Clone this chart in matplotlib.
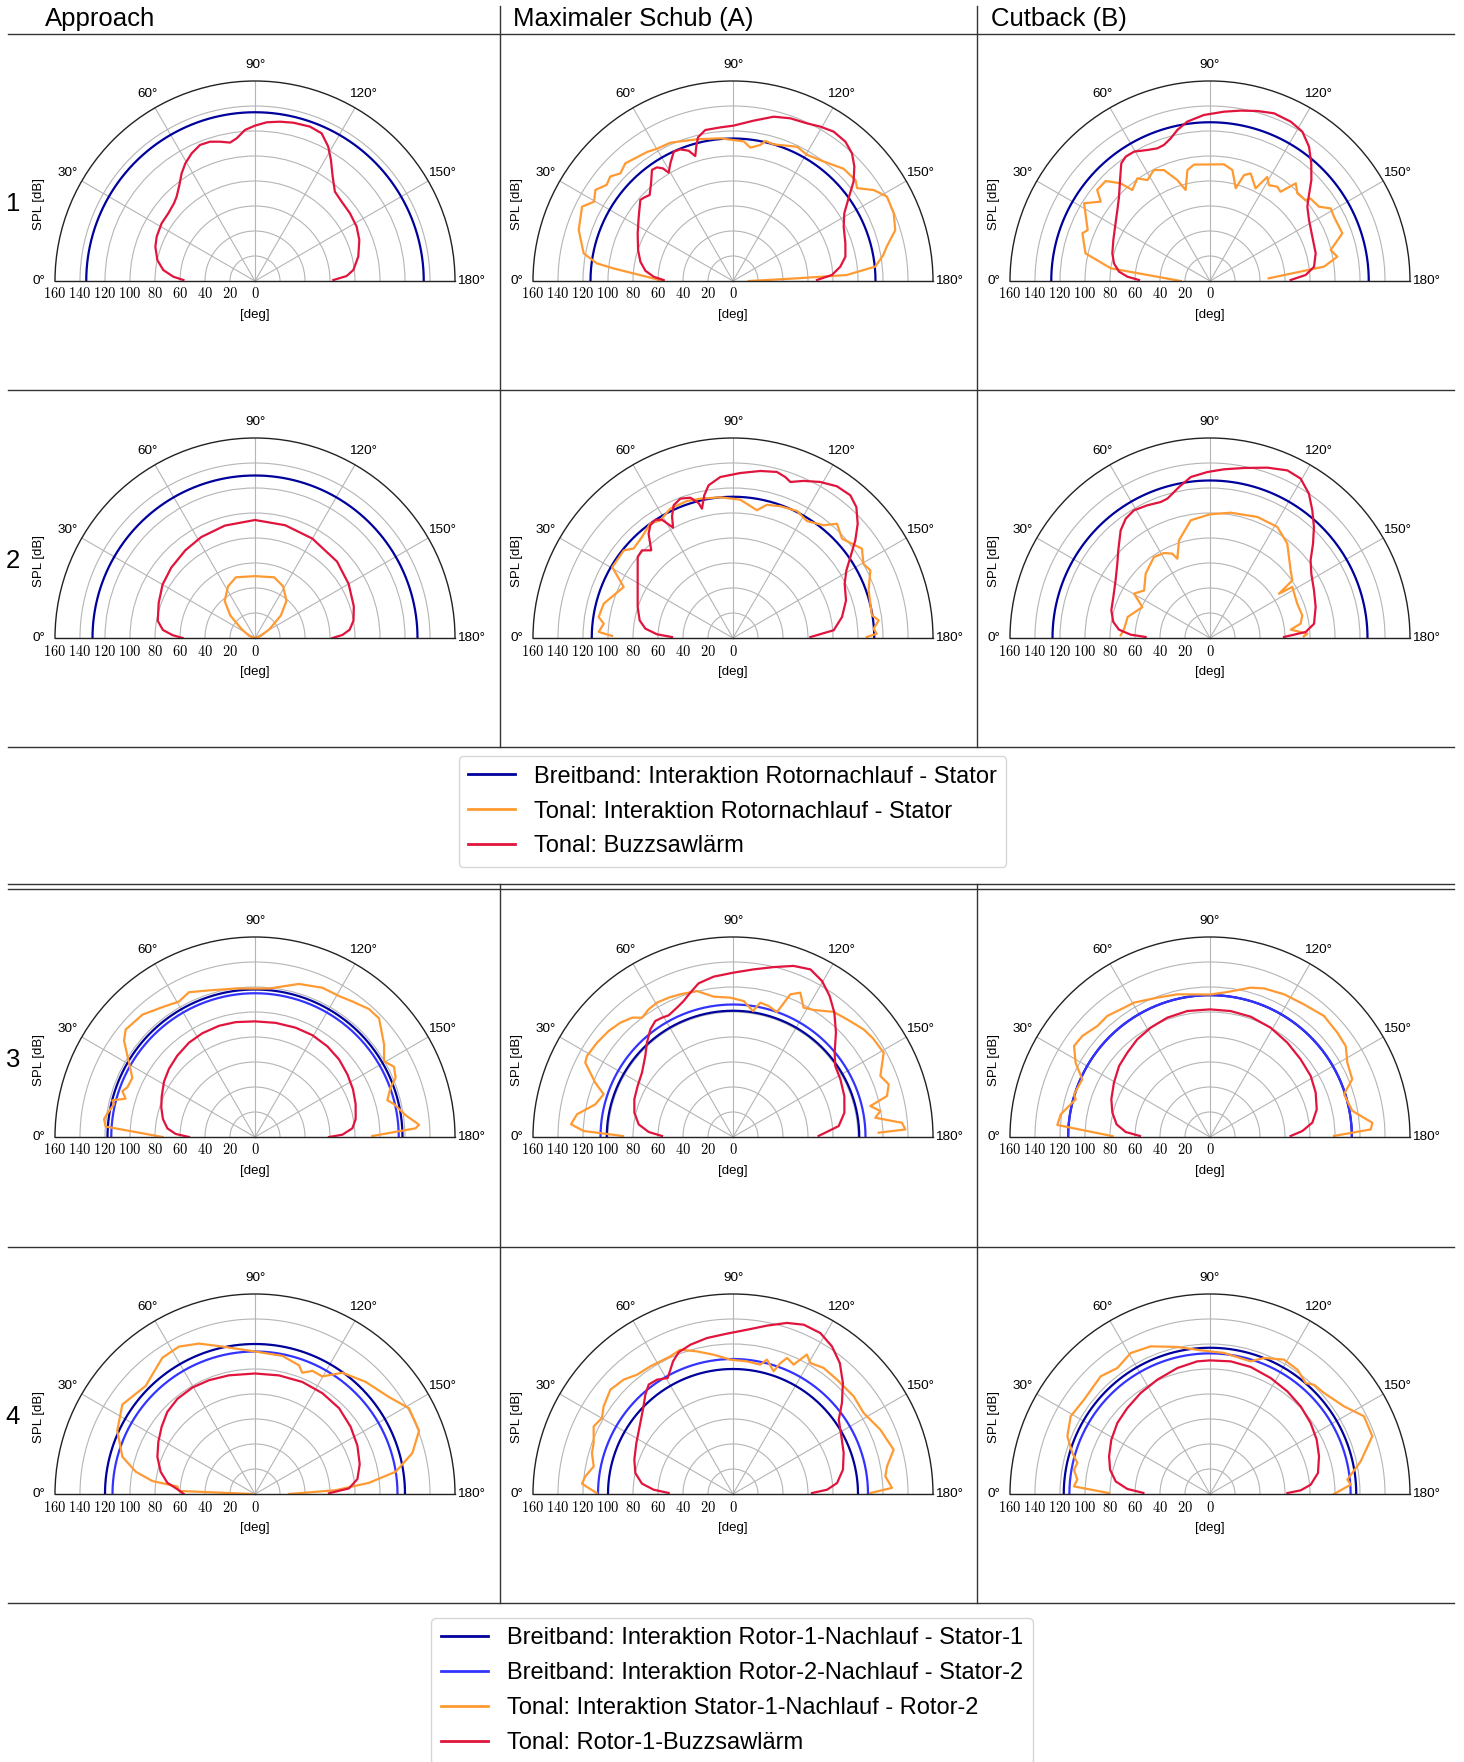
import numpy as np
import matplotlib.pyplot as plt
import matplotlib.transforms as mtransforms
from matplotlib.lines import Line2D

plt.rcParams['font.family'] = ['Liberation Sans', 'DejaVu Sans']
plt.rcParams['mathtext.fontset'] = 'cm'

# Farben
NAVY = '#00009c'
BLUE = '#3333ff'
ORANGE = '#ff9a33'
RED = '#e0143c'

# Spaltenköpfe und Zeilen
headers = ['Approach', 'Maximaler Schub (A)', 'Cutback (B)']
rows = ['1', '2', '3', '4']

# ---------- Zeile 1 ----------
app1_bb = 135
app1_red_deg = [0.8, 3, 6.8, 12.1, 19, 24.3, 31.7, 38, 43.8, 47.1, 51.8, 55.7, 59.4, 63.6, 68, 72.1, 75.9, 79.8, 82.7,
                86.2, 90, 94.2, 98.9, 103.6, 109.6, 114.3, 118.6, 122.1, 126.7, 131.8, 137.5, 144.5, 151.9, 158.5,
                166.7, 173.6, 176.9, 179.3]
app1_red_db = [57.3, 65.4, 73.9, 79.9, 84.3, 86.3, 87.8, 88, 89.8, 92.1, 97.8, 104.2, 109.4, 114, 117.4, 117.1, 114.9,
               112.5, 115.1, 121.1, 124.3, 127.3, 129, 130.3, 131.1, 129.6, 122.4, 114.3, 104, 95.9, 94, 93.3, 92.2, 89.7,
               84.9, 79.2, 73.4, 62.7]

sch1_bb = 114
sch1_ora_deg = [0, 6, 7.4, 10.5, 18.3, 26.2, 29.7, 33.5, 37.3, 40.4, 43.7, 47.5, 56.4, 60.2, 65.6, 75.7, 84.9, 94.4, 97.4,
                101.4, 103, 106.5, 115.5, 120.4, 127.2, 134.5, 140.5, 143.2, 147.1, 151.3, 157.2, 162.6, 167.4, 170.2,
                174.2, 177, 177.6, 178.5, 180]
sch1_ora_db = [55.5, 96, 110, 121.5, 130, 134.6, 128, 132, 127, 129, 124.6, 127.6, 124, 122, 121.5, 117, 114.6, 112, 107.6,
               111, 115, 114, 119, 117, 120, 126, 127, 124, 134, 140.5, 139.5, 136, 126, 122,
               114.5, 91, 51, 25, 12.5]
sch1_red_deg = [0.8, 3.1, 6.7, 11.8, 18.1, 26.6, 34.3, 41.2, 43.3, 45.9, 50, 53.9, 56.2, 58.1, 59.3, 62, 65.4, 68.2, 71.2,
                73.2, 74.7, 76.3, 79.6, 85.3, 90.2, 97.3, 103.9, 109.4, 115.1, 119.5, 124, 128.9, 133, 136.7, 140.5,
                144.4, 148.7, 153.9, 161.5, 167.8, 172.4, 176.5, 179.3]
sch1_red_db = [55.5, 63.6, 70.6, 75.7, 79.9, 85.3, 91.3, 98.5, 97.5, 95.8, 102, 110, 109.4, 106.1, 100.8, 106.7, 113.8, 113.4,
               110.1, 104.4, 111.4, 118.3, 122.8, 123.3, 124.3, 129.3, 135.4, 138, 139.3, 141.9, 144.1, 143.2, 139.6,
               133.4, 125, 113.7, 104.2, 98.6, 94.8, 92, 86.6, 79.3, 67.2]

cut1_bb = 127
cut1_ora_deg = [0, 7.3, 12.5, 20.5, 22.6, 31.7, 36, 38.9, 43.8, 47.5, 49.5, 54.7, 58.2, 63.2, 67.5, 72, 75, 78.5, 82.2,
                96.8, 101.4, 105.5, 107.8, 110.7, 116.2, 118.8, 121.6, 125.5, 128.3, 131.3, 134.9, 139.7, 140.6, 145.7,
                149, 152.6, 157.2, 160.2, 165.6, 169.2, 172.8, 177.4]
cut1_ora_db = [23.5, 80, 102, 109, 106, 118.4, 108, 116, 115.6, 106, 95.7, 100.6, 95, 99.5, 96, 85, 75.4, 90.6, 94,
               94, 90.6, 77, 89, 92, 82.6, 95, 90, 92.7, 91, 104, 99, 100, 104, 105.5,
               112.7, 111.7, 112, 112.5, 99.7, 103.7, 92, 47]
cut1_red_deg = [0.8, 3, 5.9, 10.4, 15.8, 23, 29.8, 37.5, 42.8, 48.3, 53, 55.9, 59.6, 64.4, 68.3, 71.3, 74.6, 77.8, 81.9,
                87.9, 94.7, 100.2, 105.6, 110.9, 116.9, 121.7, 126.4, 130.7, 135.1, 139, 142.6, 148.4, 156.6, 165.3,
                172.2, 176.4, 179.3]
cut1_red_db = [56.8, 66.2, 73.2, 78.1, 81.2, 84, 87.5, 93.4, 99.2, 108.2, 117.9, 120.2, 120, 116.2, 114.2, 114.9, 118.4,
               123.6, 128.8, 132.9, 135.9, 138.5, 141.2, 143.6, 142.9, 140.5, 133.5, 124.2, 114.5, 104.9, 98, 93, 89.2,
               87.4, 84, 76.7, 64.5]

# ---------- Zeile 2 ----------
app2_bb = 130
app2_ora_deg = [0, 20, 33.7, 42.3, 50.7, 62.4, 72.5, 90, 107.5, 118.5, 130.3, 139, 148.4, 160, 180]
app2_ora_db = [0, 5, 13, 26.7, 38.3, 46.6, 50.9, 49.5, 50.9, 47.1, 38.9, 27.4, 13.7, 5, 0]
app2_red_deg = [0, 2, 5, 10, 20, 30, 40, 51.5, 62, 75, 90, 105, 120, 137, 150, 162.3, 170, 175, 178, 180]
app2_red_db = [58, 66, 74, 79, 82, 85.4, 87.5, 89.6, 91.5, 93.1, 94.4, 93.4, 91.8, 89.7, 86.5, 83, 80, 76, 70, 62]

sch2_bb = 113
sch2_ora_deg = [1, 2.6, 6.3, 8.9, 14.9, 25, 30.4, 38.7, 42, 48, 54.1, 58.3, 64.1, 71.4, 76.8, 84.9, 93, 100.6, 104.3,
                109.8, 116.7, 122.3, 128.8, 132.3, 137.7, 145.3, 150.4, 153.8, 160.6, 170.7, 173.1, 176.2, 178.3, 179.6]
sch2_ora_db = [96.8, 107.6, 104, 108.8, 107, 96.5, 112, 112, 107, 108.8, 113, 110.6, 115, 115.6, 114.5, 113, 110.8, 104, 110,
               112, 113.8, 110.7, 115.7, 123.6, 118, 125.5, 120, 122.5, 115, 112.6, 117.4, 112.8, 115, 107]
sch2_red_deg = [0.9, 2.8, 6.1, 10.7, 18, 26.6, 34, 40.4, 43.9, 47, 51, 53.7, 56.7, 59, 61.5, 63.4, 65.9, 69.3, 73.1, 75.7,
                76.5, 78.6, 80.9, 85.5, 92.5, 99.3, 104.8, 108, 110.2, 114.2, 119.2, 124.4, 129.4, 133.3, 137.5, 141.4,
                145.4, 149.2, 154.1, 161.6, 169.1, 175.6, 179.3]
sch2_red_db = [48.8, 60.9, 70.5, 76, 80.2, 85.3, 92, 100.1, 101.1, 95.9, 107.3, 111.8, 113.2, 110.4, 100.5, 108.9, 116.3,
               119.2, 117.3, 111.4, 106.4, 116.4, 123.7, 129.2, 132.1, 135.4, 137.4, 135.4, 133, 137.8, 143, 147.1, 147.8,
               143.9, 135.3, 125.2, 114.1, 105.6, 99.3, 95.3, 88.8, 80.8, 61.9]

cut2_bb = 126
cut2_ora_deg = [1.7, 6.2, 14.3, 24.6, 30.3, 35.8, 45, 55.3, 61.6, 65.9, 67.6, 72.4, 80.7, 90, 99.4, 111.4, 121.2, 129.3,
                140, 145, 147.3, 148.2, 158.5, 166.2, 171, 174.1, 177.5, 179]
cut2_ora_db = [71.5, 69, 68, 59.5, 70.4, 65, 72.8, 78.8, 77.3, 73.9, 68.6, 82, 95.4, 99, 101.6, 104, 103.9, 97.6,
               84.2, 80.4, 65.6, 77.5, 75, 76, 73.4, 64.9, 78, 75]
cut2_red_deg = [0.9, 2.4, 5.2, 9.4, 15.7, 23, 31.4, 38.7, 43.7, 50.3, 54.8, 59.2, 64.7, 70.1, 73, 75.4, 78.4, 83.2, 89.1,
                94.7, 101.3, 108.6, 114.8, 119.6, 124.4, 128.7, 133.1, 137.5, 142.3, 147.6, 155.4, 163.6, 172.2, 176.4,
                179.2]
cut2_red_db = [51.5, 63.5, 73.1, 78.4, 82, 84, 88.5, 95, 101.5, 111.9, 116.9, 118.9, 117.4, 115.7, 116.6, 119.3, 123.3,
               129.7, 132.8, 135.4, 138.7, 143.8, 147.7, 146.7, 140, 130.9, 121.7, 111.8, 101.7, 96, 91.5, 88.1, 84, 76.7,
               59.2]

# ---------- Zeile 3 ----------
app3_bb1, app3_bb2 = 118, 115
app3_ora_deg = [0, 4, 6.8, 9, 13.1, 14.4, 16.5, 19.1, 21.2, 25.7, 30.4, 36.3, 39.7, 47.4, 54.5, 60.7, 65.5, 72.6, 82.6,
                95.4, 106, 114.3, 120.8, 125.7, 131.7, 136.3, 144.4, 149.6, 153.2, 157.2, 159.9, 164.5, 166.7, 171.8,
                175.7, 176.9, 179.5]
app3_ora_db = [74, 119.8, 121.6, 119.6, 115.8, 117.8, 108, 112.3, 109.6, 108.9, 116.8, 130, 134.5, 133, 127.6, 124.3, 127.3,
               122.9, 119.8, 119.3, 127.4, 131, 131.3, 133.5, 137.1, 137.3, 127, 119.7, 124.6, 122, 115.5, 109.9, 114.3,
               121.8, 131.6, 128.7, 93.9]
app3_red_deg = [0, 2.2, 5.6, 11, 17.3, 23.3, 31.3, 38.4, 46.3, 55, 63.1, 72.1, 80.4, 90, 100.2, 110.4, 119.4, 128.6,
                137.3, 145.9, 154, 161.9, 169.9, 174.9, 178.5, 180]
app3_red_db = [52.8, 63.5, 70.4, 75, 78.5, 81.3, 85.2, 87.8, 90, 92.1, 93.1, 93.5, 93.2, 92.5, 92.8, 93.3, 93.5, 92.8, 91.5,
               89.3, 87.2, 84.7, 81.8, 78.2, 69.9, 59.2]

sch3_bb1, sch3_bb2 = 101, 106
sch3_ora_deg = [0.5, 2.3, 4.5, 8.3, 13.3, 18.3, 21.5, 26.7, 29, 34.7, 40.5, 45.4, 49.8, 52.7, 56.5, 60.5, 65.2, 69.7,
                76.1, 82.2, 88.9, 94.5, 99, 101.5, 105.2, 109.4, 111.9, 115, 118.6, 122.4, 128.8, 134.1, 140.5, 144.8,
                150.8, 157.5, 161.3, 165.1, 167.3, 170, 172.3, 175.2, 177.5, 178.3]
sch3_ora_db = [88, 119.6, 130, 126.1, 113.2, 109, 118.4, 132.3, 133.6, 132.4, 130.7, 128.4, 125, 120, 122.4, 123.5, 122.8,
               121.7, 120.3, 113.3, 111.5, 109.1, 102, 109.7, 108.6, 106, 123, 127.4, 117.9, 120.4, 128.4, 131.1, 135.4,
               137, 138.1, 127.6, 131.5, 127.5, 112.6, 119.7, 114.9, 135.7, 138, 116.6]
sch3_red_deg = [0.8, 3.4, 7.6, 13.9, 20.9, 28.1, 35.3, 42.7, 47.6, 52.5, 56.2, 59.2, 62.1, 66.6, 70.1, 73.5, 77.4, 83.1,
                90.2, 97, 103.5, 109.5, 114.8, 119.7, 124.4, 129.2, 134.6, 140.3, 145.2, 151.8, 159.8, 167.7, 174.1,
                179.3]
sch3_red_db = [56.8, 67.6, 76.1, 81.3, 84.5, 86.5, 89.2, 95.5, 102.1, 108.6, 111.7, 111.1, 110.1, 112.8, 115.8, 120.4, 126,
               129.2, 131.5, 135.1, 139.8, 145.2, 147.7, 143.7, 136.8, 128.3, 117.3, 105.7, 99.6, 97.5, 94.9, 91.2, 85,
               68.5]

cut3_bb1, cut3_bb2 = 113.5, 113.5
cut3_ora_deg = [0.5, 4.5, 8.6, 13.2, 15.7, 17.4, 24.3, 28.9, 33.8, 38.4, 44.6, 49.7, 56.4, 60.5, 69.3, 77.1, 90, 96.8,
                105.2, 110, 117.4, 125.3, 133.3, 140.7, 146.2, 151.6, 157.9, 162.3, 169.6, 175, 177.3, 179.5]
cut3_ora_db = [78, 122.5, 120.8, 114.5, 111.6, 114, 112.1, 122.8, 130.9, 130.2, 126.5, 127, 124.2, 123.5, 119.2, 117.1, 114,
               116.8, 123.8, 126.5, 128.6, 130, 133, 131.7, 130.7, 124.9, 122.8, 112.5, 115.8, 130.4, 128.7, 99.2]
cut3_red_deg = [0.8, 3.4, 7.7, 14, 20.9, 29.5, 38, 45.6, 53.3, 61.5, 70.3, 79.8, 90, 99.3, 108.7, 119, 129.3, 139.4,
                148.8, 157.2, 165.5, 172, 176.3, 179.3]
cut3_red_db = [56, 67.6, 75.4, 80.5, 84.5, 88.3, 92.3, 94.5, 97.4, 99.5, 101.4, 102.4, 102.1, 102.1, 101.6, 100, 97.6, 95.5,
               94.2, 91.7, 88.2, 82.7, 74, 64.5]

# ---------- Zeile 4 ----------
app4_bb1, app4_bb2 = 120, 114
app4_ora_deg = [0, 2.3, 5.5, 7.2, 10.6, 15.7, 24.7, 34, 44.7, 49.3, 55.8, 62.7, 69.6, 77.5, 90, 101.2, 108.9, 111.3,
                115, 119.8, 125.8, 134.6, 144.1, 150.9, 158.9, 165.4, 171, 174.4, 177.3, 180]
app4_ora_db = [2, 60.8, 62.4, 82.8, 97.1, 110.2, 121.3, 128, 123, 126, 131.8, 132.7, 128.4, 120.8, 114, 112.6, 108.8, 104.1,
               108.7, 108.4, 119.6, 126, 132.3, 141, 140.7, 130.1, 114, 91.6, 64.6, 27.2]
app4_red_deg = [0, 2.8, 7.3, 13.3, 20.9, 28.4, 35.7, 43.1, 50.8, 59.5, 68, 77.6, 90, 101.4, 112.9, 123.8, 134.4, 144.9,
                154.7, 164.1, 171.7, 176.6, 179.4]
app4_red_db = [57, 60.9, 70.7, 77.6, 83.6, 87.9, 92, 96.1, 98.2, 98.8, 98.2, 97.2, 96.4, 96.8, 97.3, 97, 96.1, 93.5, 90.6,
               87.1, 82.8, 75.3, 59.2]

sch4_bb1, sch4_bb2 = 100, 108
sch4_ora_deg = [0.3, 3.9, 6.8, 11.2, 16.2, 20.1, 25.9, 30.1, 34.1, 40.4, 46.3, 51.2, 57.1, 61.3, 65.5, 69.9, 75.8, 82.1,
                88.9, 96, 101.9, 104.2, 108.3, 109.9, 111.7, 115.1, 117.9, 120.6, 125.7, 132.3, 141, 148.2, 156.4,
                164.6, 169.8, 173.4, 177.8, 179.6]
sch4_ora_db = [108.8, 121.1, 119, 113.6, 117.5, 118.7, 123.9, 121.2, 125, 128.8, 126.6, 122.5, 121.7, 121, 121, 122.9, 117.7,
               112.5, 107.5, 106.7, 105.8, 110.9, 103.4, 111.4, 117.1, 114.3, 126.2, 121.7, 124.2, 123.7, 124.2, 123,
               128.6, 133.3, 125.2, 122.7, 127.3, 109.9]
sch4_red_deg = [0.9, 3.1, 6.5, 12.1, 19.2, 27.8, 35.9, 43.1, 48.6, 52.4, 56.4, 60.6, 63.3, 65.7, 69, 74.1, 80.5, 87.9,
                94.9, 101.4, 107.5, 112.7, 118.5, 123.8, 129.2, 134.7, 140.1, 144.9, 152, 159.7, 167.5, 174, 177.4,
                179.3]
sch4_red_db = [51.5, 63.6, 73.3, 79.9, 83.6, 87.4, 92.2, 98.7, 106, 110.5, 109.8, 106.5, 111.4, 116.5, 121.4, 124.2, 126.5,
               128.4, 131.9, 137.4, 143.5, 146.8, 146.5, 142.2, 135.2, 125, 113.6, 103.4, 98.2, 94.4, 90.1, 83.7, 75.3,
               63.2]

cut4_bb1, cut4_bb2 = 117, 112.5
cut4_ora_deg = [0.5, 3.2, 6.2, 10.1, 13.2, 16.6, 22, 29.1, 36.8, 47.1, 53.7, 60.6, 68.1, 77.5, 86.3, 95.7, 107, 111.7,
                118.8, 125.1, 130.8, 133.6, 138.5, 146.8, 153.2, 160.4, 167.8, 174, 176.2, 180]
cut4_ora_db = [80.8, 109, 106.8, 110.5, 109, 114.9, 123.1, 127.6, 125.9, 128.5, 125.1, 129.4, 127.3, 120.5, 115.2, 113.4,
               111, 117.1, 122.7, 121.6, 117.2, 120.7, 121.9, 128.1, 138, 137.8, 123.3, 110.5, 112.8, 99.2]
cut4_red_deg = [0.9, 3.5, 7.6, 13.7, 20.5, 28.8, 37.5, 46.1, 55.5, 65.3, 75.5, 84.5, 90, 98.9, 107.8, 117.6, 127, 136,
                144.8, 153, 160.9, 169, 174.7, 177.7, 179.3]
cut4_red_db = [53.3, 66.3, 76.1, 82.3, 86.2, 90.1, 93.4, 95.4, 98, 100.7, 104.1, 106.6, 106.9, 107.4, 106.7, 104.7, 102.8,
               100.9, 98.5, 95.8, 92.3, 88, 80.9, 72.6, 61.9]

legend_top = ['Breitband: Interaktion Rotornachlauf - Stator',
              'Tonal: Interaktion Rotornachlauf - Stator',
              'Tonal: Buzzsawlärm']
legend_bottom = ['Breitband: Interaktion Rotor-1-Nachlauf - Stator-1',
                 'Breitband: Interaktion Rotor-2-Nachlauf - Stator-2',
                 'Tonal: Interaktion Stator-1-Nachlauf - Rotor-2',
                 'Tonal: Rotor-1-Buzzsawlärm']

# Panels: (Zeile, Spalte, Breitband-Pegel, tonale Kurven)
panels = [
    (0, 0, [(app1_bb, NAVY)], [(app1_red_deg, app1_red_db, RED)]),
    (0, 1, [(sch1_bb, NAVY)], [(sch1_ora_deg, sch1_ora_db, ORANGE), (sch1_red_deg, sch1_red_db, RED)]),
    (0, 2, [(cut1_bb, NAVY)], [(cut1_ora_deg, cut1_ora_db, ORANGE), (cut1_red_deg, cut1_red_db, RED)]),
    (1, 0, [(app2_bb, NAVY)], [(app2_ora_deg, app2_ora_db, ORANGE), (app2_red_deg, app2_red_db, RED)]),
    (1, 1, [(sch2_bb, NAVY)], [(sch2_ora_deg, sch2_ora_db, ORANGE), (sch2_red_deg, sch2_red_db, RED)]),
    (1, 2, [(cut2_bb, NAVY)], [(cut2_ora_deg, cut2_ora_db, ORANGE), (cut2_red_deg, cut2_red_db, RED)]),
    (2, 0, [(app3_bb1, NAVY), (app3_bb2, BLUE)], [(app3_ora_deg, app3_ora_db, ORANGE), (app3_red_deg, app3_red_db, RED)]),
    (2, 1, [(sch3_bb1, NAVY), (sch3_bb2, BLUE)], [(sch3_ora_deg, sch3_ora_db, ORANGE), (sch3_red_deg, sch3_red_db, RED)]),
    (2, 2, [(cut3_bb1, NAVY), (cut3_bb2, BLUE)], [(cut3_ora_deg, cut3_ora_db, ORANGE), (cut3_red_deg, cut3_red_db, RED)]),
    (3, 0, [(app4_bb1, NAVY), (app4_bb2, BLUE)], [(app4_ora_deg, app4_ora_db, ORANGE), (app4_red_deg, app4_red_db, RED)]),
    (3, 1, [(sch4_bb1, NAVY), (sch4_bb2, BLUE)], [(sch4_ora_deg, sch4_ora_db, ORANGE), (sch4_red_deg, sch4_red_db, RED)]),
    (3, 2, [(cut4_bb1, NAVY), (cut4_bb2, BLUE)], [(cut4_ora_deg, cut4_ora_db, ORANGE), (cut4_red_deg, cut4_red_db, RED)]),
]

W, H = 1464, 1762
fig = plt.figure(figsize=(W / 100, H / 100), dpi=100)


def fx(px):
    return px / W


def fy(py):
    return 1 - py / H


col_x = [255, 733, 1210]
row_y = [281, 638, 1137, 1494]
R = 200  # Radius in Pixel

full_arc = np.radians(np.linspace(0, 180, 361))

for row, col, levels, curves in panels:
    cx, cy = col_x[col], row_y[row]
    # quadratische Box, der Halbkreis sitzt mittig darin
    ax = fig.add_axes([fx(cx - R), fy(cy + R / 2), 2 * R / W, 2 * R / H], projection='polar')
    ax.set_theta_zero_location('W')
    ax.set_theta_direction(-1)
    ax.set_thetamin(0)
    ax.set_thetamax(180)
    ax.set_rlim(0, 160)
    ax.set_rticks(np.arange(20, 141, 20))
    ax.set_yticklabels([])
    ax.set_thetagrids(np.arange(0, 181, 30))
    ax.tick_params(axis='x', labelsize=9.7, pad=1)
    ax.grid(color='#b5b5b5', lw=0.8)
    for sp in ax.spines.values():
        sp.set_color('#222222')
        sp.set_linewidth(1.0)

    for level, c in levels:
        ax.plot(full_arc, np.full_like(full_arc, level), color=c, lw=1.6)
    for deg, db, c in curves:
        ax.plot(np.radians(deg), db, color=c, lw=1.6, solid_joinstyle='round')

    # Radiale Beschriftung unter der linken Grundlinie
    below = mtransforms.offset_copy(ax.transData, fig=fig, y=-13, units='dots')
    for rv in range(0, 161, 20):
        ax.text(0, rv, f'${rv}$', transform=below, ha='center', va='center', fontsize=10.4)

    fig.text(fx(cx), fy(cy + 34), '[deg]', ha='center', va='center', fontsize=9.5)
    fig.text(fx(cx - 216), fy(cy - 77), 'SPL [dB]', ha='center', va='center', rotation=90, fontsize=9.5)

# Zeilennummern
for lab, cy in zip(rows, row_y):
    fig.text(fx(13), fy(cy - 77), lab, ha='center', va='center', fontsize=18.5)

# Spaltenköpfe
for lab, x in zip(headers, [45, 513, 991]):
    fig.text(fx(x), fy(26), lab, ha='left', va='baseline', fontsize=18.5)

# Tabellenlinien
for y in [34, 390, 747, 884, 889, 1247, 1603]:
    fig.add_artist(Line2D([fx(8), fx(1454)], [fy(y), fy(y)], color='#333333', lw=1.0))
for x in [500, 977]:
    fig.add_artist(Line2D([fx(x), fx(x)], [fy(6), fy(747)], color='#333333', lw=1.0))
    fig.add_artist(Line2D([fx(x), fx(x)], [fy(884), fy(1603)], color='#333333', lw=1.0))

# Legenden
h_top = [Line2D([], [], color=c, lw=2) for c in [NAVY, ORANGE, RED]]
fig.legend(h_top, legend_top, loc='center', bbox_to_anchor=(fx(732.5), fy(811.5)), fontsize=17,
           labelspacing=0.55)

h_bot = [Line2D([], [], color=c, lw=2) for c in [NAVY, BLUE, ORANGE, RED]]
fig.legend(h_bot, legend_bottom, loc='upper center', bbox_to_anchor=(fx(732), fy(1618)), fontsize=17,
           labelspacing=0.55, borderaxespad=0)

fig.savefig('out.png', dpi=100)
